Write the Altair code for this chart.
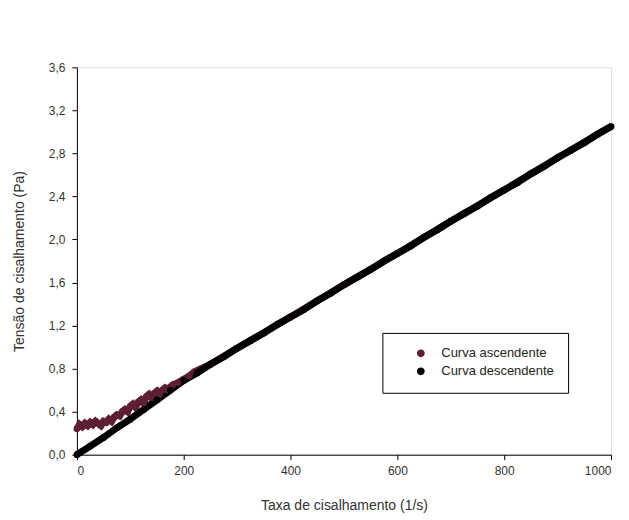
import altair as alt
import pandas as pd

# Descending curve (black)
desc_x = [0, 25, 50, 75, 100, 125, 150, 175, 200, 225, 250, 275, 300, 325, 350, 375, 400,
          425, 450, 475, 500, 525, 550, 575, 600, 625, 650, 675, 700, 725, 750, 775, 800,
          825, 850, 875, 900, 925, 950, 975, 1000]
desc_y = [0.00, 0.08, 0.16, 0.25, 0.33, 0.42, 0.51, 0.60, 0.69, 0.76, 0.84, 0.91, 0.99, 1.06,
          1.13, 1.21, 1.28, 1.35, 1.43, 1.50, 1.58, 1.65, 1.72, 1.80, 1.87, 1.94, 2.02, 2.09,
          2.17, 2.24, 2.31, 2.39, 2.46, 2.53, 2.61, 2.68, 2.76, 2.83, 2.90, 2.98, 3.05]

# Ascending curve (maroon), noisy at low shear rates
asc_x = [0, 5, 10, 15, 20, 25, 30, 35, 40, 45, 50, 55, 60, 65, 70, 75, 80, 85, 90, 95, 100,
         105, 110, 115, 120, 125, 130, 135, 140, 145, 150, 155, 160, 165, 170, 175, 180, 190,
         200, 210, 220, 250, 300, 400, 500, 600, 700, 800, 900, 1000]
asc_y = [0.24, 0.28, 0.26, 0.29, 0.27, 0.30, 0.28, 0.31, 0.29, 0.27, 0.31, 0.30, 0.33, 0.31,
         0.35, 0.37, 0.36, 0.40, 0.42, 0.40, 0.45, 0.47, 0.44, 0.49, 0.51, 0.48, 0.54, 0.56,
         0.53, 0.57, 0.59, 0.56, 0.60, 0.62, 0.60, 0.63, 0.65, 0.67, 0.70, 0.73, 0.77, 0.84,
         0.99, 1.28, 1.58, 1.87, 2.17, 2.46, 2.76, 3.05]

series_names = ["Curva ascendente", "Curva descendente"]
series_colors = ["#5c1f35", "#000000"]

df = pd.concat([
    pd.DataFrame({"x": asc_x, "y": asc_y, "serie": series_names[0]}),
    pd.DataFrame({"x": desc_x, "y": desc_y, "serie": series_names[1]}),
], ignore_index=True)

font = "Liberation Sans"

xenc = alt.X("x:Q", scale=alt.Scale(domain=[0, 1000], nice=False),
             axis=alt.Axis(values=[0, 200, 400, 600, 800, 1000], format="d",
                           title="Taxa de cisalhamento (1/s)",
                           grid=False, domainColor="black", tickColor="black", tickSize=5,
                           labelFont=font, labelFontSize=12, labelColor="#333",
                           titleFont=font, titleFontSize=14, titleFontWeight="normal",
                           titleColor="#333", titlePadding=22, labelPadding=6))
yenc = alt.Y("y:Q", scale=alt.Scale(domain=[0, 3.6], nice=False),
             axis=alt.Axis(values=[0, 0.4, 0.8, 1.2, 1.6, 2.0, 2.4, 2.8, 3.2, 3.6],
                           labelExpr="replace(format(datum.value, '.1f'), '.', ',')",
                           title="Tensão de cisalhamento (Pa)",
                           grid=False, domainColor="black", tickColor="black", tickSize=5,
                           labelFont=font, labelFontSize=12, labelColor="#333",
                           titleFont=font, titleFontSize=14, titleFontWeight="normal",
                           titleColor="#333", titlePadding=22, labelPadding=7))

legend = alt.Legend(title=None, orient="none", legendX=306, legendY=266,
                    strokeColor="black", fillColor="white", padding=14,
                    labelFont=font, labelFontSize=13, labelColor="#222",
                    symbolSize=40, symbolType="circle", rowPadding=4, labelOffset=14,
                    symbolOffset=18)
color = alt.Color("serie:N", scale=alt.Scale(domain=series_names, range=series_colors),
                  legend=legend)

lines = alt.Chart(df).mark_line(strokeWidth=7).encode(
    x=xenc, y=yenc, color=color, order="x:Q",
)

points = alt.Chart(df).mark_circle(size=45, opacity=1).encode(
    x=xenc, y=yenc, color=color,
)

chart = alt.layer(lines, points).properties(
    width=535, height=388,
    padding={"left": 69, "top": 59, "right": 10, "bottom": 62},
    autosize=alt.AutoSizeParams(type="none"),
).configure_view(stroke="black", strokeWidth=1).configure(background="white")

chart.save("out.html", embed_options={"renderer": "svg", "actions": False})
